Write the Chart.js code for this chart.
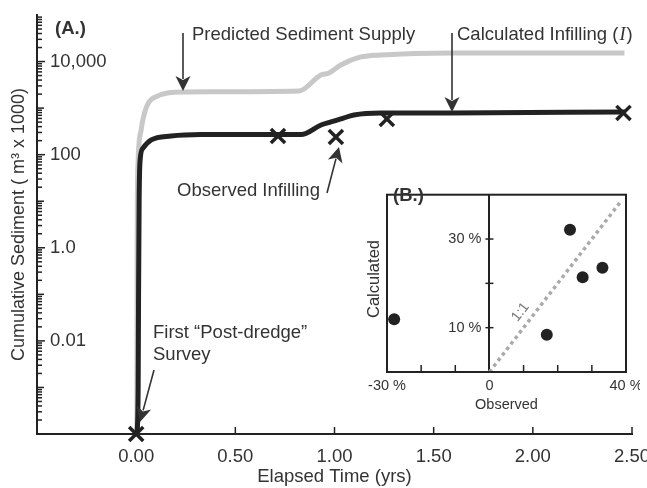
<!DOCTYPE html>
<html>
<head>
<meta charset="utf-8">
<script src="https://cdn.jsdelivr.net/npm/chart.js@4"></script>
<style>
  body { margin: 0; background: #fff; }
  #wrap { position: relative; width: 647px; height: 488px; }
  #main { position: absolute; left: 0; top: 0; }
  #inset { position: absolute; left: 340px; top: 175px; }
</style>
</head>
<body>
<div id="wrap">
  <canvas id="main" width="647" height="488"></canvas>
  <canvas id="inset" width="300" height="240"></canvas>
</div>
<script>
// main panel (A.) - elapsed time (yrs) vs cumulative sediment (m3 x 1000)
var predX = [0.004, 0.005, 0.006, 0.010, 0.025, 0.050, 0.086, 0.242, 0.821, 0.931, 0.972, 1.032, 1.133, 1.234, 1.601, 2.462];
var predY = [0.0001, 1, 10.6, 77, 339, 1007, 1652, 2222, 2336, 5150, 5690, 8450, 12560, 13870, 15320, 15320];

var calcX = [0.005, 0.010, 0.012, 0.015, 0.020, 0.035, 0.076, 0.176, 0.327, 0.831, 0.932, 0.982, 1.032, 1.098, 1.234, 1.586, 2.467];
var calcY = [0.0001, 0.001, 0.076, 10.6, 77, 139, 207, 252, 272, 270, 434, 504, 585, 713, 787, 787, 827];

var obsX = [0.0, 0.715, 1.007, 1.264, 2.457];
var obsY = [0.0001, 252, 240, 585, 787];

var xTicks = [0, 0.5, 1, 1.5, 2, 2.5];
var yTicks = [0.01, 1, 100, 10000];
var yTickText = ['0.01', '1.0', '100', '10,000'];

// inset (B.) - observed vs calculated (%)
var insetObs  = [-27.9, 16.8, 23.6, 27.3, 33.1];
var insetCalc = [11.9, 8.4, 32.1, 21.4, 23.5];
var oneX = [0, 38.5];
var oneY = [0, 38.5];
var insetXLabels = [-30, 0, 40];
var insetYLabels = [10, 30];
var insetXMarks = [-20, -10, 10, 20, 30];
var insetYMarks = [10, 20, 30];

var FONT = '"Liberation Sans", Arial, sans-serif';
var INK = '#333';
Chart.defaults.font.family = FONT;
Chart.defaults.color = INK;

function pts(xs, ys) {
  return xs.map(function (x, i) { return { x: x, y: ys[i] }; });
}

function arrow(ctx, x1, y1, x2, y2) {
  var a = Math.atan2(y2 - y1, x2 - x1), hl = 15, hw = 7.5;
  var c = Math.cos(a), s = Math.sin(a);
  var bx = x2 - hl * c, by = y2 - hl * s;
  ctx.beginPath(); ctx.moveTo(x1, y1); ctx.lineTo(bx + 3 * c, by + 3 * s); ctx.stroke();
  ctx.beginPath();
  ctx.moveTo(x2, y2);
  ctx.lineTo(bx + hw * s, by - hw * c);
  ctx.lineTo(bx + 4 * c, by + 4 * s);
  ctx.lineTo(bx - hw * s, by + hw * c);
  ctx.closePath(); ctx.fill();
}

var mainDeco = {
  id: 'mainDeco',
  afterDraw: function (chart) {
    var ctx = chart.ctx, x = chart.scales.x, y = chart.scales.y, ca = chart.chartArea;
    ctx.save();
    ctx.strokeStyle = '#222'; ctx.lineWidth = 1.5;
    // inward ticks
    for (var d = -4; d < 5; d++) {
      for (var m = 1; m < 10; m++) {
        var py = y.getPixelForValue(m * Math.pow(10, d));
        var len = m === 1 ? (d % 2 === 0 ? 8 : 7) : 5;
        ctx.beginPath(); ctx.moveTo(ca.left, py); ctx.lineTo(ca.left + len, py); ctx.stroke();
      }
    }
    xTicks.forEach(function (v) {
      var px = x.getPixelForValue(v);
      ctx.beginPath(); ctx.moveTo(px, ca.bottom); ctx.lineTo(px, ca.bottom - 7); ctx.stroke();
    });
    // labels and arrows
    ctx.fillStyle = INK; ctx.strokeStyle = INK; ctx.lineWidth = 1.6;
    ctx.textBaseline = 'middle'; ctx.textAlign = 'left';
    ctx.font = 'bold 18.5px ' + FONT;
    ctx.fillText('(A.)', 55, 29);
    ctx.font = '18.5px ' + FONT;
    ctx.fillText('Predicted Sediment Supply', 192, 35);
    var t1 = 'Calculated Infilling (';
    ctx.fillText(t1, 457, 35);
    var w1 = ctx.measureText(t1).width;
    ctx.font = 'italic 18.5px "Liberation Serif", serif';
    ctx.fillText('I', 457 + w1 + 1, 35);
    var w2 = ctx.measureText('I').width;
    ctx.font = '18.5px ' + FONT;
    ctx.fillText(')', 457 + w1 + w2 + 2, 35);
    ctx.fillText('Observed Infilling', 177, 191);
    ctx.fillText('First \u201cPost-dredge\u201d', 153, 333);
    ctx.fillText('Survey', 153, 355);
    arrow(ctx, 183, 33, 183, 91);
    arrow(ctx, 452, 33, 452, 112);
    arrow(ctx, 327, 193, 339, 147);
    arrow(ctx, 154, 370, 140, 422);
    ctx.restore();
  }
};

new Chart(document.getElementById('main'), {
  type: 'line',
  data: {
    datasets: [
      { label: 'Predicted Sediment Supply', data: pts(predX, predY), borderColor: '#c8c8c8', borderWidth: 5,
        pointRadius: 0, cubicInterpolationMode: 'monotone', order: 3 },
      { label: 'Calculated Infilling', data: pts(calcX, calcY), borderColor: '#222', borderWidth: 5,
        pointRadius: 0, cubicInterpolationMode: 'monotone', order: 2 },
      { label: 'Observed Infilling', data: pts(obsX, obsY), showLine: false, pointStyle: 'crossRot',
        pointRadius: 10, borderWidth: 3.5, borderColor: '#222', clip: false, order: 1 }
    ]
  },
  options: {
    responsive: false,
    animation: false,
    layout: { padding: { top: 15, right: 15, left: 0, bottom: 0 } },
    plugins: { legend: { display: false }, tooltip: { enabled: false } },
    scales: {
      x: {
        type: 'linear', min: -0.5, max: 2.5,
        afterBuildTicks: function (s) { s.ticks = xTicks.map(function (v) { return { value: v }; }); },
        afterFit: function (s) { s.height = 54; s.paddingLeft = 0; s.paddingRight = 0; },
        grid: { display: false, drawTicks: false },
        border: { color: '#222', width: 2 },
        ticks: { padding: 12, font: { size: 18.5 }, maxRotation: 0, autoSkip: false,
          callback: function (v) { return Number(v).toFixed(2); } },
        title: { display: true, text: 'Elapsed Time (yrs)', font: { size: 18.5 }, padding: { top: 0, bottom: 0 } }
      },
      y: {
        type: 'logarithmic', min: 1e-4, max: 1e5,
        afterBuildTicks: function (s) { s.ticks = yTicks.map(function (v) { return { value: v }; }); },
        afterFit: function (s) { s.width = 37; s.paddingTop = 0; s.paddingBottom = 0; },
        grid: { display: false, drawTicks: false },
        border: { color: '#222', width: 2 },
        ticks: { mirror: true, padding: 13, font: { size: 18.5 }, autoSkip: false,
          callback: function (v) {
            for (var i = 0; i < yTicks.length; i++) {
              if (Math.abs(Math.log10(v) - Math.log10(yTicks[i])) < 1e-6) return yTickText[i];
            }
            return '';
          } },
        title: { display: true, text: 'Cumulative Sediment ( m\u00b3 x 1000)', font: { size: 18 }, padding: { top: 8, bottom: 0 } }
      }
    }
  },
  plugins: [mainDeco]
});

var insetDeco = {
  id: 'insetDeco',
  afterDraw: function (chart) {
    var ctx = chart.ctx, x = chart.scales.x, y = chart.scales.y, ca = chart.chartArea;
    ctx.save();
    ctx.strokeStyle = '#222'; ctx.lineWidth = 2;
    ctx.strokeRect(ca.left, ca.top, ca.right - ca.left, ca.bottom - ca.top);
    ctx.lineWidth = 1.5;
    var x0 = x.getPixelForValue(0);
    insetXMarks.forEach(function (v) {
      var px = x.getPixelForValue(v);
      ctx.beginPath(); ctx.moveTo(px, ca.bottom); ctx.lineTo(px, ca.bottom - 7); ctx.stroke();
    });
    insetYMarks.forEach(function (v) {
      var py = y.getPixelForValue(v);
      ctx.beginPath(); ctx.moveTo(x0 - 4, py); ctx.lineTo(x0 + 4, py); ctx.stroke();
    });
    ctx.fillStyle = INK;
    ctx.textBaseline = 'middle'; ctx.textAlign = 'left';
    ctx.font = 'bold 18.5px ' + FONT;
    ctx.fillText('(B.)', 53, 21);
    ctx.save();
    ctx.translate(34, 104); ctx.rotate(-Math.PI / 2);
    ctx.textAlign = 'center';
    ctx.font = '16.5px ' + FONT;
    ctx.fillText('Calculated', 0, 0);
    ctx.restore();
    // 1:1 label along the line
    var ax = x.getPixelForValue(0), ay = y.getPixelForValue(0);
    var bx = x.getPixelForValue(40), by = y.getPixelForValue(40);
    ctx.save();
    ctx.translate(x.getPixelForValue(9.1), y.getPixelForValue(13.5));
    ctx.rotate(Math.atan2(by - ay, bx - ax));
    ctx.textAlign = 'center';
    ctx.fillStyle = '#777';
    ctx.font = '14px ' + FONT;
    ctx.fillText('1:1', 0, 0);
    ctx.restore();
    ctx.restore();
  }
};

new Chart(document.getElementById('inset'), {
  type: 'scatter',
  data: {
    datasets: [
      { label: 'Observed vs Calculated', data: pts(insetObs, insetCalc), pointRadius: 6,
        backgroundColor: '#222', borderWidth: 0, order: 0 },
      { type: 'line', label: '1:1', data: pts(oneX, oneY), borderColor: '#aaa', borderWidth: 3.5,
        borderDash: [3.5, 3.5], pointRadius: 0, order: 1 }
    ]
  },
  options: {
    responsive: false,
    animation: false,
    layout: { padding: { left: 47, top: 10, right: 14, bottom: 0 } },
    plugins: { legend: { display: false }, tooltip: { enabled: false } },
    scales: {
      x: {
        type: 'linear', min: -30, max: 40,
        afterBuildTicks: function (s) { s.ticks = insetXLabels.map(function (v) { return { value: v }; }); },
        afterFit: function (s) { s.height = 43; s.paddingLeft = 0; s.paddingRight = 0; },
        grid: { display: false, drawTicks: false },
        border: { display: false },
        ticks: { padding: 5, font: { size: 14.5 }, maxRotation: 0, autoSkip: false,
          callback: function (v) { return v === 0 ? '0' : v + ' %'; } },
        title: { display: true, text: 'Observed', font: { size: 14.5 }, padding: { top: 0, bottom: 1 } }
      },
      y: {
        type: 'linear', min: 0, max: 40, position: { x: 0 },
        afterBuildTicks: function (s) { s.ticks = insetYLabels.map(function (v) { return { value: v }; }); },
        grid: { display: false, drawTicks: false },
        border: { color: '#222', width: 2 },
        ticks: { padding: 11, font: { size: 14.5 }, autoSkip: false,
          callback: function (v) { return v + ' %  '; } }
      }
    }
  },
  plugins: [insetDeco]
});
</script>
</body>
</html>
